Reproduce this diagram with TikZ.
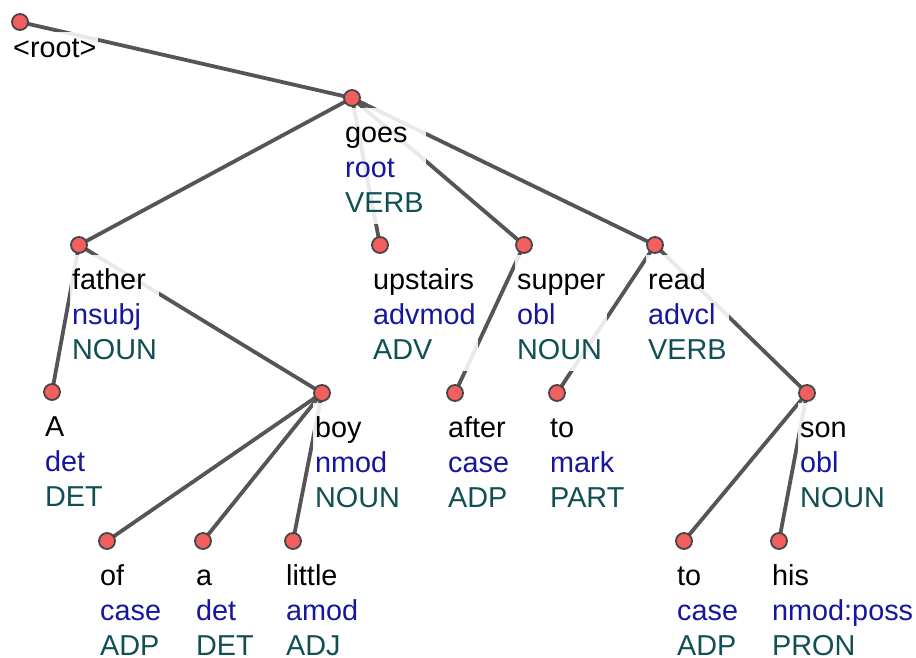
\documentclass[tikz,border=0pt]{standalone}
\usepackage{fontspec}
\setmainfont{Liberation Sans}
\definecolor{relcol}{RGB}{22,22,158}
\definecolor{poscol}{RGB}{16,80,84}
\definecolor{edgecol}{RGB}{85,85,85}
\definecolor{dotfill}{RGB}{242,95,95}
\definecolor{dotline}{RGB}{70,70,70}
\tikzset{
  arc/.style={draw=edgecol, line width=3.8pt},
  dot/.style={circle, fill=dotfill, draw=dotline, line width=1.8pt, minimum size=16pt, inner sep=0pt},
  lbl/.style={anchor=north west, fill=white, fill opacity=0.87, text opacity=1,
    inner xsep=2pt, inner ysep=12pt, align=left,
    font={\fontsize{28.8}{35}\selectfont}},
}
% label block under a token: word, relation, part of speech
\newcommand\toklabel[4]{%
  \node[lbl] (#1-lbl) at ([xshift=-9pt,yshift=-10pt]#1)
    {\rule{0pt}{22pt}#2\\\textcolor{relcol}{#3}\\\textcolor{poscol}{#4}};}
\begin{document}
\begin{tikzpicture}[x=1pt, y=-1pt]
\useasboundingbox (0,0) rectangle (916,657);
% token positions
\coordinate (root) at (20,22);
\coordinate (goes) at (352,98);
\coordinate (father) at (79,245);
\coordinate (upstairs) at (380,245);
\coordinate (supper) at (524,245);
\coordinate (read) at (655,245);
\coordinate (A) at (52,392);
\coordinate (boy) at (322,393);
\coordinate (after) at (455,393);
\coordinate (toA) at (557,393);
\coordinate (son) at (807,393);
\coordinate (of) at (107,541);
\coordinate (a) at (203,541);
\coordinate (little) at (293,541);
\coordinate (toB) at (684,541);
\coordinate (his) at (779,541);
% dependency arcs
\draw[arc] (root) -- (goes);
\draw[arc] (goes) -- (father);
\draw[arc] (goes) -- (upstairs);
\draw[arc] (goes) -- (supper);
\draw[arc] (goes) -- (read);
\draw[arc] (father) -- (A);
\draw[arc] (father) -- (boy);
\draw[arc] (boy) -- (of);
\draw[arc] (boy) -- (a);
\draw[arc] (boy) -- (little);
\draw[arc] (supper) -- (after);
\draw[arc] (read) -- (toA);
\draw[arc] (read) -- (son);
\draw[arc] (son) -- (toB);
\draw[arc] (son) -- (his);
% label blocks
\node[lbl, inner ysep=3pt] (root-lbl) at ([xshift=-9pt,yshift=-10pt]root)
  {\rule{0pt}{22pt}\textless root\textgreater};
\toklabel{goes}{goes}{root}{VERB}
\toklabel{father}{father}{nsubj}{NOUN}
\toklabel{upstairs}{upstairs}{advmod}{ADV}
\toklabel{supper}{supper}{obl}{NOUN}
\toklabel{read}{read}{advcl}{VERB}
\toklabel{A}{A}{det}{DET}
\toklabel{boy}{boy}{nmod}{NOUN}
\toklabel{after}{after}{case}{ADP}
\toklabel{toA}{to}{mark}{PART}
\toklabel{son}{son}{obl}{NOUN}
\toklabel{of}{of}{case}{ADP}
\toklabel{a}{a}{det}{DET}
\toklabel{little}{little}{amod}{ADJ}
\toklabel{toB}{to}{case}{ADP}
\toklabel{his}{his}{nmod:poss}{PRON}
% token dots
\foreach \t in {root,goes,father,upstairs,supper,read,A,boy,after,toA,son,of,a,little,toB,his}
  \node[dot] (\t-dot) at (\t) {};
\end{tikzpicture}
\end{document}
